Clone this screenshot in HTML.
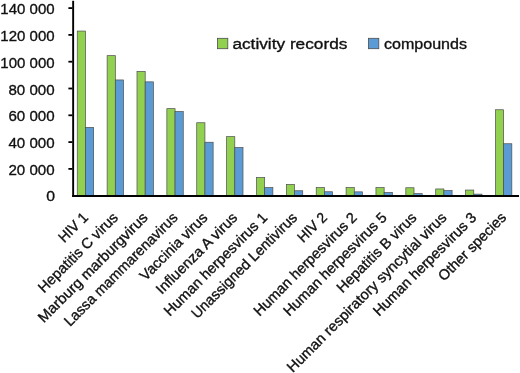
<!DOCTYPE html>
<html lang="en"><head><meta charset="utf-8"><title>Chart</title>
<style>
html,body{margin:0;padding:0;background:#fff;}
body{width:520px;height:373px;overflow:hidden;}
svg{display:block;}
text{font-family:"Liberation Sans",sans-serif;fill:#111;stroke:#111;stroke-width:0.35px;}
</style></head><body>
<svg width="520" height="373" viewBox="0 0 520 373">
<rect width="520" height="373" fill="#fff"/>
<rect x="77.25" y="31.05" width="8.2" height="164.45" fill="#92d050" stroke="#4d4d4d" stroke-width="0.7"/><rect x="85.45" y="127.35" width="8.2" height="68.15" fill="#5b9bd5" stroke="#4d4d4d" stroke-width="0.7"/>
<rect x="107.12" y="55.65" width="8.2" height="139.85" fill="#92d050" stroke="#4d4d4d" stroke-width="0.7"/><rect x="115.32" y="79.95" width="8.2" height="115.55" fill="#5b9bd5" stroke="#4d4d4d" stroke-width="0.7"/>
<rect x="136.99" y="71.35" width="8.2" height="124.15" fill="#92d050" stroke="#4d4d4d" stroke-width="0.7"/><rect x="145.19" y="81.85" width="8.2" height="113.65" fill="#5b9bd5" stroke="#4d4d4d" stroke-width="0.7"/>
<rect x="166.86" y="108.65" width="8.2" height="86.85" fill="#92d050" stroke="#4d4d4d" stroke-width="0.7"/><rect x="175.06" y="111.55" width="8.2" height="83.95" fill="#5b9bd5" stroke="#4d4d4d" stroke-width="0.7"/>
<rect x="196.73" y="122.75" width="8.2" height="72.75" fill="#92d050" stroke="#4d4d4d" stroke-width="0.7"/><rect x="204.93" y="142.25" width="8.2" height="53.25" fill="#5b9bd5" stroke="#4d4d4d" stroke-width="0.7"/>
<rect x="226.60" y="136.65" width="8.2" height="58.85" fill="#92d050" stroke="#4d4d4d" stroke-width="0.7"/><rect x="234.80" y="147.55" width="8.2" height="47.95" fill="#5b9bd5" stroke="#4d4d4d" stroke-width="0.7"/>
<rect x="256.47" y="177.45" width="8.2" height="18.05" fill="#92d050" stroke="#4d4d4d" stroke-width="0.7"/><rect x="264.67" y="187.55" width="8.2" height="7.95" fill="#5b9bd5" stroke="#4d4d4d" stroke-width="0.7"/>
<rect x="286.34" y="184.35" width="8.2" height="11.15" fill="#92d050" stroke="#4d4d4d" stroke-width="0.7"/><rect x="294.54" y="190.75" width="8.2" height="4.75" fill="#5b9bd5" stroke="#4d4d4d" stroke-width="0.7"/>
<rect x="316.21" y="187.55" width="8.2" height="7.95" fill="#92d050" stroke="#4d4d4d" stroke-width="0.7"/><rect x="324.41" y="191.75" width="8.2" height="3.75" fill="#5b9bd5" stroke="#4d4d4d" stroke-width="0.7"/>
<rect x="346.08" y="187.55" width="8.2" height="7.95" fill="#92d050" stroke="#4d4d4d" stroke-width="0.7"/><rect x="354.28" y="191.85" width="8.2" height="3.65" fill="#5b9bd5" stroke="#4d4d4d" stroke-width="0.7"/>
<rect x="375.95" y="187.55" width="8.2" height="7.95" fill="#92d050" stroke="#4d4d4d" stroke-width="0.7"/><rect x="384.15" y="192.45" width="8.2" height="3.05" fill="#5b9bd5" stroke="#4d4d4d" stroke-width="0.7"/>
<rect x="405.82" y="187.75" width="8.2" height="7.75" fill="#92d050" stroke="#4d4d4d" stroke-width="0.7"/><rect x="414.02" y="193.65" width="8.2" height="1.85" fill="#5b9bd5" stroke="#4d4d4d" stroke-width="0.7"/>
<rect x="435.69" y="188.95" width="8.2" height="6.55" fill="#92d050" stroke="#4d4d4d" stroke-width="0.7"/><rect x="443.89" y="190.55" width="8.2" height="4.95" fill="#5b9bd5" stroke="#4d4d4d" stroke-width="0.7"/>
<rect x="465.56" y="190.05" width="8.2" height="5.45" fill="#92d050" stroke="#4d4d4d" stroke-width="0.7"/><rect x="473.76" y="194.15" width="8.2" height="1.35" fill="#5b9bd5" stroke="#4d4d4d" stroke-width="0.7"/>
<rect x="495.43" y="109.75" width="8.2" height="85.75" fill="#92d050" stroke="#4d4d4d" stroke-width="0.7"/><rect x="503.63" y="143.75" width="8.2" height="51.75" fill="#5b9bd5" stroke="#4d4d4d" stroke-width="0.7"/>
<rect x="72.2" y="0.8" width="1.9" height="196.2" fill="#000"/>
<rect x="72.2" y="195" width="446.8" height="2" fill="#000"/>
<text x="55.0" y="200.90" font-size="15.4" text-anchor="end" textLength="8.8" lengthAdjust="spacingAndGlyphs">0</text>
<rect x="68.4" y="168.00" width="4" height="1.8" fill="#000"/><text x="54.6" y="174.95" font-size="15.4" text-anchor="end" textLength="46.2" lengthAdjust="spacingAndGlyphs">20 000</text>
<rect x="68.4" y="141.20" width="4" height="1.8" fill="#000"/><text x="54.6" y="148.20" font-size="15.4" text-anchor="end" textLength="46.2" lengthAdjust="spacingAndGlyphs">40 000</text>
<rect x="68.4" y="114.40" width="4" height="1.8" fill="#000"/><text x="54.6" y="121.45" font-size="15.4" text-anchor="end" textLength="46.2" lengthAdjust="spacingAndGlyphs">60 000</text>
<rect x="68.4" y="87.60" width="4" height="1.8" fill="#000"/><text x="54.6" y="94.70" font-size="15.4" text-anchor="end" textLength="46.2" lengthAdjust="spacingAndGlyphs">80 000</text>
<rect x="68.4" y="60.80" width="4" height="1.8" fill="#000"/><text x="54.6" y="67.95" font-size="15.4" text-anchor="end" textLength="54.3" lengthAdjust="spacingAndGlyphs">100 000</text>
<rect x="68.4" y="34.00" width="4" height="1.8" fill="#000"/><text x="54.6" y="41.20" font-size="15.4" text-anchor="end" textLength="54.3" lengthAdjust="spacingAndGlyphs">120 000</text>
<rect x="68.4" y="7.20" width="4" height="1.8" fill="#000"/><text x="54.6" y="14.45" font-size="15.4" text-anchor="end" textLength="54.3" lengthAdjust="spacingAndGlyphs">140 000</text>
<text transform="translate(88.95,218.5) rotate(-45)" font-size="14.6" text-anchor="end" textLength="35.0" lengthAdjust="spacingAndGlyphs">HIV 1</text>
<text transform="translate(118.82,218.5) rotate(-45)" font-size="14.6" text-anchor="end" textLength="105.9" lengthAdjust="spacingAndGlyphs">Hepatitis C virus</text>
<text transform="translate(148.69,218.5) rotate(-45)" font-size="14.6" text-anchor="end" textLength="148.5" lengthAdjust="spacingAndGlyphs">Marburg marburgvirus</text>
<text transform="translate(178.56,218.5) rotate(-45)" font-size="14.6" text-anchor="end" textLength="153.6" lengthAdjust="spacingAndGlyphs">Lassa mammarenavirus</text>
<text transform="translate(208.43,218.5) rotate(-45)" font-size="14.6" text-anchor="end" textLength="89.0" lengthAdjust="spacingAndGlyphs">Vaccinia virus</text>
<text transform="translate(238.30,218.5) rotate(-45)" font-size="14.6" text-anchor="end" textLength="108.1" lengthAdjust="spacingAndGlyphs">Influenza A virus</text>
<text transform="translate(268.17,218.5) rotate(-45)" font-size="14.6" text-anchor="end" textLength="139.1" lengthAdjust="spacingAndGlyphs">Human herpesvirus 1</text>
<text transform="translate(298.04,218.5) rotate(-45)" font-size="14.6" text-anchor="end" textLength="142.6" lengthAdjust="spacingAndGlyphs">Unassigned Lentivirus</text>
<text transform="translate(327.91,218.5) rotate(-45)" font-size="14.6" text-anchor="end" textLength="35.0" lengthAdjust="spacingAndGlyphs">HIV 2</text>
<text transform="translate(357.78,218.5) rotate(-45)" font-size="14.6" text-anchor="end" textLength="139.1" lengthAdjust="spacingAndGlyphs">Human herpesvirus 2</text>
<text transform="translate(387.65,218.5) rotate(-45)" font-size="14.6" text-anchor="end" textLength="139.1" lengthAdjust="spacingAndGlyphs">Human herpesvirus 5</text>
<text transform="translate(417.52,218.5) rotate(-45)" font-size="14.6" text-anchor="end" textLength="106.1" lengthAdjust="spacingAndGlyphs">Hepatitis B virus</text>
<text transform="translate(447.39,218.5) rotate(-45)" font-size="14.6" text-anchor="end" textLength="218.6" lengthAdjust="spacingAndGlyphs">Human respiratory syncytial virus</text>
<text transform="translate(477.26,218.5) rotate(-45)" font-size="14.6" text-anchor="end" textLength="139.1" lengthAdjust="spacingAndGlyphs">Human herpesvirus 3</text>
<text transform="translate(507.13,218.5) rotate(-45)" font-size="14.6" text-anchor="end" textLength="89.4" lengthAdjust="spacingAndGlyphs">Other species</text>
<rect x="217.4" y="38.3" width="10.4" height="10.4" fill="#92d050" stroke="#4d4d4d" stroke-width="0.8"/><text x="232.4" y="48.7" font-size="15.5" textLength="115" lengthAdjust="spacingAndGlyphs">activity records</text>
<rect x="368.4" y="38.3" width="10.4" height="10.4" fill="#5b9bd5" stroke="#4d4d4d" stroke-width="0.8"/><text x="384.0" y="48.7" font-size="15.5" textLength="83" lengthAdjust="spacingAndGlyphs">compounds</text>
</svg>
</body></html>
